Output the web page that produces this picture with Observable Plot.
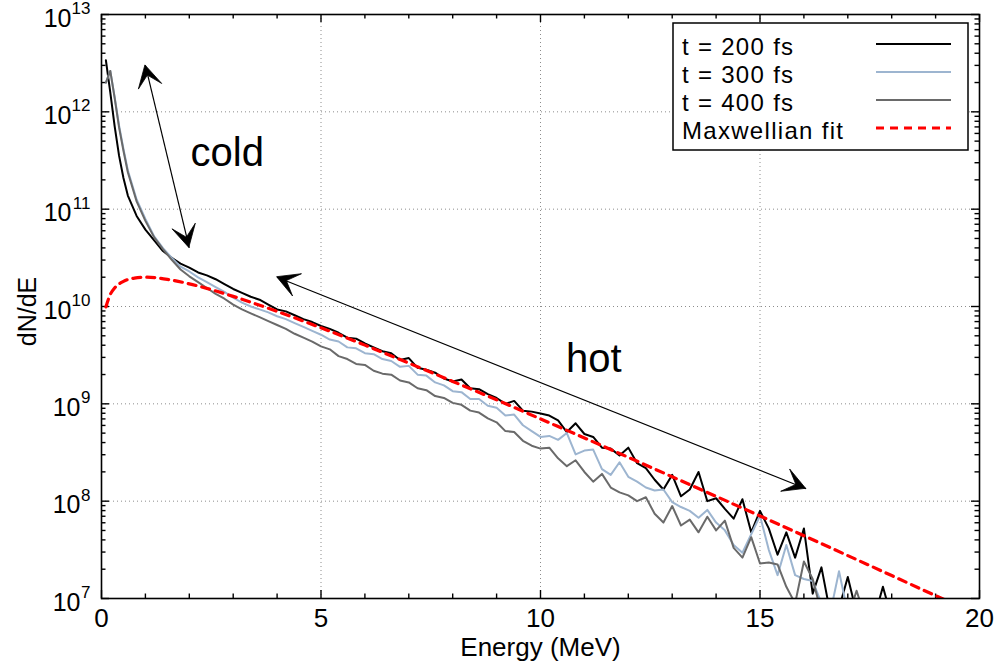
<!DOCTYPE html>
<html>
<head>
<meta charset="utf-8">
<script src="https://cdn.jsdelivr.net/npm/d3@7"></script>
<script src="https://cdn.jsdelivr.net/npm/@observablehq/plot@0.6"></script>
<style>
  body { margin: 0; background: #fff; }
  #chart { width: 1000px; height: 667px; }
</style>
</head>
<body>
<div id="chart"></div>
<script>
// ---------- data ----------
// energy grid in MeV
const energy = [0.1,0.2,0.3,0.4,0.5,0.6,0.8,
  1.0,1.2,1.4,1.6,1.8,2.0,2.2,2.4,2.6,2.8,3.0,3.2,3.4,3.6,3.8,4.0,4.2,4.4,4.6,4.8,
  5.0,5.2,5.4,5.6,5.8,6.0,6.2,6.4,6.6,6.8,7.0,7.2,7.4,7.6,7.8,8.0,8.2,8.4,8.6,8.8,
  9.0,9.2,9.4,9.6,9.8,10.0,10.2,10.4,10.6,10.8,11.0,11.2,11.4,11.6,11.8,12.0,12.2,12.4,12.6,12.8,
  13.0,13.2,13.4,13.6,13.8,14.0,14.2,14.4,14.6,14.8,15.0,15.2,15.4,15.6,15.8,16.0,16.2,16.4,16.6,16.8,
  17.0,17.2,17.4,17.6,17.8,18.0,18.2];
// log10(dN/dE) for each time
const log10_t200 = [12.53,12.20,11.85,11.55,11.32,11.14,10.93,
  10.79,10.68,10.57,10.50,10.44,10.40,10.35,10.32,10.28,10.23,10.18,10.14,10.10,10.07,10.02,9.97,9.95,9.91,9.87,9.84,
  9.80,9.77,9.73,9.68,9.67,9.62,9.58,9.54,9.52,9.45,9.47,9.37,9.35,9.32,9.26,9.23,9.25,9.16,9.15,9.10,
  9.06,9.00,9.03,8.93,8.92,8.90,8.88,8.83,8.71,8.80,8.69,8.66,8.55,8.54,8.47,8.55,8.39,8.34,8.22,8.12,
  8.27,8.05,8.12,8.30,8.00,8.03,7.92,7.82,8.02,7.68,7.90,7.72,7.45,7.68,7.42,7.72,7.05,7.32,6.85,6.90,
  7.22,6.85,6.80,6.80,7.12,6.80,6.80];
const log10_t300 = [12.30,12.42,12.15,11.86,11.62,11.40,11.10,
  10.90,10.72,10.60,10.50,10.41,10.36,10.30,10.25,10.20,10.15,10.09,10.04,10.00,9.97,9.94,9.90,9.87,9.83,9.79,9.75,
  9.71,9.66,9.64,9.58,9.57,9.52,9.51,9.46,9.44,9.38,9.39,9.30,9.29,9.22,9.19,9.13,9.12,9.05,9.05,8.98,
  8.96,8.88,8.89,8.78,8.72,8.66,8.67,8.63,8.70,8.48,8.52,8.53,8.33,8.27,8.40,8.25,8.20,8.14,8.11,8.12,
  7.99,7.94,7.90,7.83,7.91,7.78,7.70,7.55,7.47,7.66,7.85,7.50,7.24,7.55,7.24,7.20,7.18,6.95,6.85,7.28,
  6.85,6.80,6.80,6.80,6.80,6.80,6.80];
const log10_t400 = [12.30,12.42,12.14,11.84,11.60,11.38,11.08,
  10.88,10.71,10.59,10.48,10.38,10.31,10.25,10.19,10.13,10.08,10.02,9.97,9.93,9.89,9.85,9.81,9.77,9.72,9.68,9.64,
  9.59,9.56,9.49,9.46,9.41,9.40,9.34,9.31,9.30,9.24,9.22,9.16,9.14,9.08,9.06,9.01,8.99,8.93,8.91,8.85,
  8.81,8.72,8.71,8.62,8.57,8.54,8.55,8.44,8.36,8.42,8.30,8.20,8.28,8.14,8.09,8.06,8.00,8.04,7.87,7.78,
  7.95,7.75,7.81,7.68,7.84,7.70,7.80,7.52,7.42,7.63,7.36,7.37,7.35,7.12,6.95,7.38,7.20,6.85,6.85,6.80,
  6.80,7.08,6.80,6.80,6.80,6.80,6.80];
// Maxwellian fit
const fitEnergy = [0.1,0.2,0.3,0.5,0.75,1,1.5,2,2.5,3,4,5,6,7,8,9,10,11,12,13,14,15,16,17,18,19,19.5];
const fitValue = [9.9e9,1.33e10,1.55e10,1.81e10,1.96e10,2.0e10,1.90e10,1.71e10,1.49e10,1.27e10,8.9e9,6.04e9,4.01e9,
  2.62e9,1.70e9,1.10e9,7.0e8,4.46e8,2.82e8,1.78e8,1.12e8,7.05e7,4.42e7,2.76e7,1.72e7,1.07e7,8.5e6];

const seriesNames = ["t = 200 fs", "t = 300 fs", "t = 400 fs", "Maxwellian fit"];
const seriesColors = ["#000000", "#9db5d0", "#6a6a6a", "#ff0000"];

// axes
const xMajor = [0, 5, 10, 15, 20];
const xMinor = [1,2,3,4,6,7,8,9,11,12,13,14,16,17,18,19];
const yDecades = [1e7, 1e8, 1e9, 1e10, 1e11, 1e12, 1e13];
const yExponents = ["7", "8", "9", "10", "11", "12", "13"];
const xLabel = "Energy (MeV)";
const yLabel = "dN/dE";

// annotations
const annotationArrows = [
  {x1: 1.0, y1: 3.0e12, x2: 2.0, y2: 4.0e10},
  {x1: 4.0, y1: 2.0e10, x2: 16.05, y2: 1.34e8}
];
const annotationTexts = [
  {x: 2.03, y: 3.8e11, text: "cold"},
  {x: 10.58, y: 2.85e9, text: "hot"}
];

// ---------- build tables ----------
const seriesLogs = [log10_t200, log10_t300, log10_t400];
const seriesRows = seriesLogs.map(arr => arr.map((v, i) => ({E: energy[i], N: Math.pow(10, v)})));
const fitRows = fitEnergy.map((e, i) => ({E: e, N: fitValue[i]}));
const yMinor = [];
for (const d of yDecades.slice(0, -1)) for (let m = 2; m <= 9; m++) yMinor.push(d * m);
const yTicks = yDecades.map((v, i) => ({v, exp: yExponents[i]}));
const yTicks1 = yTicks.filter(d => d.exp.length === 1);
const yTicks2 = yTicks.filter(d => d.exp.length === 2);

const W = 1000, H = 667, mT = 14, mB = 69, mL = 101, mR = 21;
const FW = W - mL - mR, FH = H - mT - mB;
const gridStyle = {stroke: "#8c8c8c", strokeOpacity: 1, strokeWidth: 1, strokeDasharray: "1,3"};
const font = "'Liberation Sans', Arial, Helvetica, sans-serif";
const tickStyle = {stroke: "#000", strokeWidth: 1.4};

const plot = Plot.plot({
  width: W, height: H,
  marginTop: mT, marginBottom: mB, marginLeft: mL, marginRight: mR,
  style: {fontFamily: font, fontSize: "24px", background: "#fff", color: "#000", overflow: "visible"},
  x: {domain: [0, 20], axis: null},
  y: {type: "log", domain: [1e7, 1e13], axis: null},
  marks: [
    Plot.gridX(xMajor.slice(1, -1), gridStyle),
    Plot.gridY(yDecades.slice(1, -1), gridStyle),
    // ticks pointing inward on all four sides
    Plot.tickX(xMajor, {x: d => d, insetTop: FH - 8, ...tickStyle}),
    Plot.tickX(xMajor, {x: d => d, insetBottom: FH - 8, ...tickStyle}),
    Plot.tickX(xMinor, {x: d => d, insetTop: FH - 4.5, ...tickStyle}),
    Plot.tickX(xMinor, {x: d => d, insetBottom: FH - 4.5, ...tickStyle}),
    Plot.tickY(yDecades, {y: d => d, insetRight: FW - 8, ...tickStyle}),
    Plot.tickY(yDecades, {y: d => d, insetLeft: FW - 8, ...tickStyle}),
    Plot.tickY(yMinor, {y: d => d, insetRight: FW - 4.5, ...tickStyle}),
    Plot.tickY(yMinor, {y: d => d, insetLeft: FW - 4.5, ...tickStyle}),
    // data
    ...seriesRows.map((rows, k) => Plot.line(rows, {x: "E", y: "N", stroke: seriesColors[k], strokeWidth: 2, clip: true})),
    Plot.line(fitRows, {x: "E", y: "N", stroke: seriesColors[3], strokeWidth: 3.2, strokeDasharray: "8,6", curve: "monotone-x", clip: true}),
    // annotation arrow shafts and labels
    Plot.link(annotationArrows, {x1: "x1", y1: "y1", x2: "x2", y2: "y2", stroke: "#000", strokeWidth: 1.2}),
    Plot.text(annotationTexts, {x: "x", y: "y", text: "text", fontSize: 40, textAnchor: "start", lineAnchor: "middle"}),
    // frame
    Plot.frame({stroke: "#000", strokeWidth: 1.6}),
    // x axis tick labels
    Plot.text(xMajor, {x: d => d, text: d => String(d), frameAnchor: "bottom", lineAnchor: "top", textAnchor: "middle", dy: 10, fontSize: 26}),
    // y axis tick labels 10^n (whole label right-aligned)
    Plot.text(yTicks1, {y: "v", text: () => "10", frameAnchor: "left", dx: -21, dy: 4, textAnchor: "end", lineAnchor: "middle", fontSize: 25}),
    Plot.text(yTicks2, {y: "v", text: () => "10", frameAnchor: "left", dx: -30, dy: 4, textAnchor: "end", lineAnchor: "middle", fontSize: 25}),
    Plot.text(yTicks, {y: "v", text: "exp", frameAnchor: "left", dx: -11, dy: -6, textAnchor: "end", lineAnchor: "middle", fontSize: 17}),
    // axis titles
    Plot.text([xLabel], {text: d => d, frameAnchor: "bottom", lineAnchor: "middle", textAnchor: "middle", dy: 49, fontSize: 26}),
    Plot.text([yLabel], {text: d => d, frameAnchor: "left", lineAnchor: "middle", textAnchor: "middle", rotate: -90, dx: -74, dy: 5, fontSize: 25})
  ]
});

// arrow heads (filled, gnuplot style), positioned via the plot's own scales
const sx = plot.scale("x"), sy = plot.scale("y");
const svg = d3.select(plot);
function headPath(tip, from) {
  const dx = from[0] - tip[0], dy = from[1] - tip[1], L = Math.hypot(dx, dy);
  const ux = dx / L, uy = dy / L, nx = -uy, ny = ux;
  const len = 22, half = 12, notch = 10.5;
  const p1 = [tip[0] + ux * len + nx * half, tip[1] + uy * len + ny * half];
  const p2 = [tip[0] + ux * notch, tip[1] + uy * notch];
  const p3 = [tip[0] + ux * len - nx * half, tip[1] + uy * len - ny * half];
  return `M${tip[0]},${tip[1]}L${p1[0]},${p1[1]}L${p2[0]},${p2[1]}L${p3[0]},${p3[1]}Z`;
}
const heads = svg.append("g").attr("fill", "#000").attr("stroke", "#000").attr("stroke-width", 0.8).attr("stroke-linejoin", "miter");
for (const a of annotationArrows) {
  const A = [sx.apply(a.x1), sy.apply(a.y1)], B = [sx.apply(a.x2), sy.apply(a.y2)];
  heads.append("path").attr("d", headPath(A, B));
  heads.append("path").attr("d", headPath(B, A));
}

// legend box (inside the frame, top right)
const lg = svg.append("g").attr("font-family", font).attr("font-size", 24).attr("letter-spacing", "1.3px").attr("text-anchor", "start");
lg.append("rect").attr("x", 673).attr("y", 23).attr("width", 295).attr("height", 127)
  .attr("fill", "#fff").attr("stroke", "#000").attr("stroke-width", 1.5);
seriesNames.forEach((name, i) => {
  const yb = 55 + i * 28;
  lg.append("text").attr("x", 682).attr("y", yb).attr("text-anchor", "start").text(name);
  lg.append("line").attr("x1", 876).attr("x2", 951).attr("y1", yb - 11).attr("y2", yb - 11)
    .attr("stroke", seriesColors[i]).attr("stroke-width", i === 3 ? 3.2 : 2)
    .attr("stroke-dasharray", i === 3 ? "8,6" : null);
});

document.getElementById("chart").appendChild(plot);
</script>
</body>
</html>
